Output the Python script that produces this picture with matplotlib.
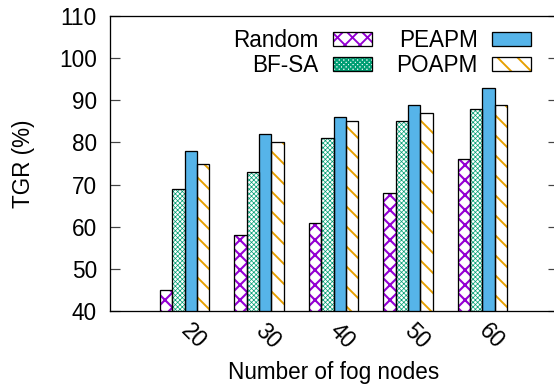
import matplotlib
matplotlib.use('Agg')
import matplotlib.pyplot as plt
import numpy as np
from matplotlib.patches import Patch

# ---- data ----
nodes = ['20', '30', '40', '50', '60']
series = ['Random', 'BF-SA', 'PEAPM', 'POAPM']
random_v = [45, 58, 61, 68, 76]
bfsa_v = [69, 73, 81, 85, 88]
peapm_v = [78, 82, 86, 89, 93]
poapm_v = [75, 80, 85, 87, 89]
yticks = [40, 50, 60, 70, 80, 90, 100, 110]

DPI = 180
W, H = 554, 388


def px(v):
    return v * 72.0 / DPI


values = [random_v, bfsa_v, peapm_v, poapm_v]
styles = [
    dict(fc='white', hatch='xxxx', hc='#9400D3', hlw=px(2.1)),
    dict(fc='white', hatch='x' * 13, hc='#009E73', hlw=px(0.7)),
    dict(fc='#56B4E9', hatch=None, hc='#56B4E9', hlw=px(1.0)),
    dict(fc='white', hatch='\\\\\\', hc='#E69F00', hlw=px(1.9)),
]

plt.rcParams['font.family'] = ['Liberation Sans', 'DejaVu Sans']
FSPX = 22.5
FS = px(FSPX)
fig = plt.figure(figsize=(W / DPI, H / DPI), dpi=DPI)
ax = fig.add_axes([110 / W, 1 - 311 / H, (557 - 110) / W, (311 - 16) / H])

bw = 1 / 6
x = np.arange(len(nodes))


def set_hlw(artist, lw):
    if hasattr(artist, 'set_hatch_linewidth'):
        artist.set_hatch_linewidth(lw)
    else:
        artist._hatch_linewidth = lw


handles = []
for i, (name, vals, st) in enumerate(zip(series, values, styles)):
    xs = x + (i - 1.5) * bw
    plt.rcParams['hatch.linewidth'] = st['hlw']
    bars = ax.bar(xs, vals, bw, color=st['fc'], edgecolor=st['hc'],
                  linewidth=0, hatch=st['hatch'], zorder=2)
    for b in bars:
        set_hlw(b, st['hlw'])
    ax.bar(xs, vals, bw, fill=False, edgecolor='black', linewidth=px(1.3), zorder=3)
    hp = Patch(facecolor=st['fc'], edgecolor=st['hc'], linewidth=0, hatch=st['hatch'])
    set_hlw(hp, st['hlw'])
    op = Patch(fill=False, edgecolor='black', linewidth=px(1.3))
    handles.append((hp, op))

ax.set_xlim(-1, 5)
ax.set_ylim(40, 110)
ax.set_yticks(yticks)
ax.set_xticks(x)
ax.set_xticklabels(nodes, rotation=-45, ha='left', va='center',
                   rotation_mode='anchor', fontsize=FS)
ax.tick_params(axis='x', length=0, pad=px(16))
ax.tick_params(axis='y', direction='in', length=px(9.5), width=px(1.2), color='#444444',
               labelsize=FS, pad=px(13), right=True)
for s in ['left', 'top', 'bottom']:
    ax.spines[s].set_linewidth(px(1.3))
    ax.spines[s].set_color('black')
ax.spines['right'].set_visible(False)

ax.set_ylabel('TGR (%)', fontsize=FS, labelpad=px(24))
ax.set_xlabel('Number of fog nodes', fontsize=FS, labelpad=px(8))

fig.legend(handles, series, ncol=2, loc='upper right',
           bbox_to_anchor=(531 / W, 1 - 29 / H), frameon=False,
           markerfirst=False, fontsize=FS, handlelength=39 / FSPX,
           handleheight=13 / FSPX,
           handletextpad=14 / FSPX, columnspacing=25 / FSPX, labelspacing=0.1,
           borderpad=0, borderaxespad=0)

fig.savefig('out.png', dpi=DPI)
